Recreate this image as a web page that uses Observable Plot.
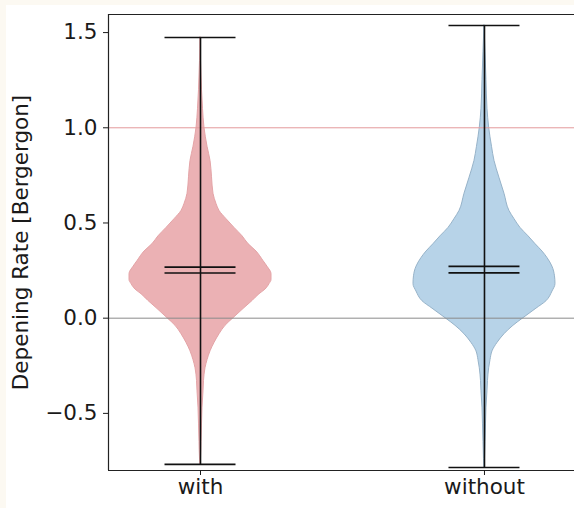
<!DOCTYPE html>
<html>
<head>
<meta charset="utf-8">
<script src="https://cdn.jsdelivr.net/npm/d3@7"></script>
<script src="https://cdn.jsdelivr.net/npm/@observablehq/plot@0.6"></script>
<style>
  html, body { margin: 0; padding: 0; background: #fcf9f2; overflow: hidden; }
  #chart { padding: 5px 0 0 6px; }
  #chart svg { display: block; background: #ffffff; }
</style>
</head>
<body>
<div id="chart"></div>
<script>
// Groups and their positions along x
const categories = ["with", "without"];
const positions = [1, 2];

// Kernel density profile of each group: sample values and relative density (1 = widest point)
const withValues = [1.474, 1.35, 1.2, 1.1, 1.0, 0.9, 0.826, 0.74, 0.653, 0.6, 0.563, 0.52, 0.474, 0.43, 0.389, 0.35, 0.3, 0.27, 0.232, 0.2, 0.179, 0.15, 0.126, 0.09, 0.053, 0.0, -0.04, -0.084, -0.13, -0.174, -0.22, -0.263, -0.33, -0.384, -0.47, -0.558, -0.65, -0.737, -0.768];
const withDensity = [0, 0.007, 0.021, 0.035, 0.056, 0.099, 0.141, 0.162, 0.183, 0.225, 0.268, 0.366, 0.479, 0.592, 0.676, 0.789, 0.887, 0.944, 1.0, 1.0, 0.972, 0.915, 0.831, 0.732, 0.62, 0.465, 0.352, 0.268, 0.197, 0.141, 0.099, 0.07, 0.049, 0.042, 0.028, 0.021, 0.014, 0.007, 0];

const withoutValues = [1.537, 1.4, 1.25, 1.1, 1.0, 0.9, 0.826, 0.737, 0.653, 0.563, 0.52, 0.474, 0.43, 0.389, 0.35, 0.316, 0.27, 0.22, 0.179, 0.14, 0.089, 0.05, 0.0, -0.04, -0.084, -0.13, -0.174, -0.22, -0.263, -0.33, -0.384, -0.47, -0.558, -0.65, -0.74, -0.784];
const withoutDensity = [0, 0.014, 0.028, 0.042, 0.066, 0.106, 0.141, 0.211, 0.282, 0.352, 0.423, 0.507, 0.62, 0.718, 0.817, 0.887, 0.958, 0.993, 1.0, 0.958, 0.873, 0.732, 0.549, 0.408, 0.282, 0.183, 0.113, 0.085, 0.066, 0.049, 0.042, 0.028, 0.021, 0.014, 0.007, 0];

// Summary statistics per group
const means = [0.268, 0.272];
const medians = [0.237, 0.238];
const mins = [-0.768, -0.784];
const maxs = [1.474, 1.537];

// Reference levels
const zeroLevel = [0];
const unitLevel = [1];

// Axis ticks
const yTicks = [-0.5, 0, 0.5, 1.0, 1.5];

const xDomain = [0.676, 2.317];
const yDomain = [-0.8, 1.595];
const halfWidth = 0.25;   // violin half width in x units
const capHalf = 0.125;    // half length of the statistic lines

function profile(values, density, pos, group) {
  return values.map((v, i) => ({group, y: v, x1: pos - halfWidth * density[i], x2: pos + halfWidth * density[i]}));
}
const withRows = profile(withValues, withDensity, positions[0], categories[0]);
const withoutRows = profile(withoutValues, withoutDensity, positions[1], categories[1]);

const stats = categories.map((c, i) => ({group: c, pos: positions[i], min: mins[i], max: maxs[i]}));
const statLines = [];
categories.forEach((c, i) => {
  for (const v of [mins[i], maxs[i], means[i], medians[i]]) {
    statLines.push({group: c, y: v, x1: positions[i] - capHalf, x2: positions[i] + capHalf});
  }
});

const fmt = d => d.toFixed(1).replace("-", "\u2212");

const chart = Plot.plot({
  width: 568,
  height: 503,
  marginLeft: 102,
  marginRight: 0,
  marginTop: 9,
  marginBottom: 38,
  style: {fontFamily: "DejaVu Sans, sans-serif", fontSize: "21.5px", color: "#1a1a1a", background: "#ffffff"},
  x: {domain: xDomain},
  y: {domain: yDomain},
  marks: [
    Plot.areaX(withRows, {y: "y", x1: "x1", x2: "x2", fill: "#ebb1b4", stroke: "#e4a4a7", strokeWidth: 1, curve: "monotone-y"}),
    Plot.areaX(withoutRows, {y: "y", x1: "x1", x2: "x2", fill: "#b7d3e8", stroke: "#97b3c9", strokeWidth: 1, curve: "monotone-y"}),
    Plot.ruleY(zeroLevel, {stroke: "#8a8a8a", strokeWidth: 1}),
    Plot.ruleY(unitLevel, {stroke: "#e39a9b", strokeWidth: 1}),
    Plot.ruleX(stats, {x: "pos", y1: "min", y2: "max", stroke: "#111111", strokeWidth: 1.6}),
    Plot.ruleY(statLines, {y: "y", x1: "x1", x2: "x2", stroke: "#111111", strokeWidth: 1.6}),
    // axes spines: top, bottom, left
    Plot.ruleY(yDomain, {stroke: "#222222", strokeWidth: 1.2}),
    Plot.ruleX([xDomain[0]], {stroke: "#222222", strokeWidth: 1.2}),
    Plot.axisY({
      ticks: yTicks, tickSize: 5, tickPadding: 6, tickFormat: fmt, fontSize: 21.5,
      label: "Depening Rate [Bergergon]", labelAnchor: "center", labelArrow: "none", labelOffset: 96
    }),
    Plot.axisX({
      ticks: positions, tickSize: 5, tickPadding: 3, fontSize: 21.5,
      tickFormat: d => categories[positions.indexOf(d)], label: null
    })
  ]
});
document.getElementById("chart").appendChild(chart);
</script>
</body>
</html>
